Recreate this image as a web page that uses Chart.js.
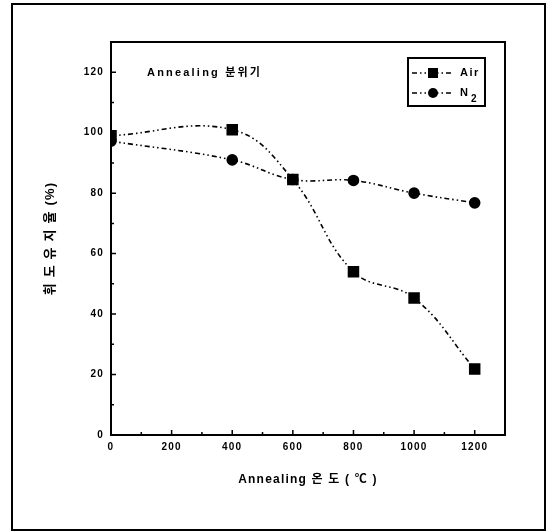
<!DOCTYPE html>
<html>
<head>
<meta charset="utf-8">
<script src="https://cdn.jsdelivr.net/npm/chart.js@4"></script>
<style>
  html, body { margin: 0; padding: 0; background: #fff; }
  canvas { display: block; }
</style>
</head>
<body>
<canvas id="chart" width="552" height="532"></canvas>
<script>
// Data
const temps = [0, 400, 600, 800, 1000, 1200];
const airValues = [99, 101, 84.5, 54, 45.3, 21.8];
const n2Values = [97.2, 91, 84.5, 84.2, 80, 76.8];
const xTicks = [0, 200, 400, 600, 800, 1000, 1200];
const yTicks = [0, 20, 40, 60, 80, 100, 120];
const seriesNames = ['Air', 'N'];

const FONT = "'Liberation Sans', 'Noto Sans CJK KR', Arial, sans-serif";
const DASH = [5, 3, 1.5, 3, 1.5, 3];

function toPoints(values) {
    return temps.map((t, i) => ({ x: t, y: values[i] }));
}

// Wider letter spacing like the scanned original
const spacingPlugin = {
    id: 'spacing',
    beforeLayout(chart) { chart.ctx.letterSpacing = '1.2px'; },
    beforeDraw(chart) { chart.ctx.letterSpacing = '1.2px'; }
};

// Frames, inside ticks, note text and legend box
const decorPlugin = {
    id: 'decor',
    afterDraw(chart) {
        const ctx = chart.ctx;
        const area = chart.chartArea;
        const xs = chart.scales.x;
        const ys = chart.scales.y;
        ctx.save();
        ctx.strokeStyle = '#000';
        ctx.fillStyle = '#000';

        // outer page border
        ctx.lineWidth = 2;
        ctx.strokeRect(12, 4, 533, 526);

        // plot frame
        ctx.strokeRect(area.left, area.top, area.right - area.left, area.bottom - area.top);

        // ticks pointing inside
        ctx.lineWidth = 1.5;
        ctx.beginPath();
        xTicks.forEach((v, i) => {
            const px = xs.getPixelForValue(v);
            ctx.moveTo(px, area.bottom);
            ctx.lineTo(px, area.bottom - 5);
            if (i < xTicks.length - 1) {
                const mx = xs.getPixelForValue(v + 100);
                ctx.moveTo(mx, area.bottom);
                ctx.lineTo(mx, area.bottom - 3);
            }
        });
        yTicks.forEach((v, i) => {
            const py = ys.getPixelForValue(v);
            ctx.moveTo(area.left, py);
            ctx.lineTo(area.left + 5, py);
            if (i < yTicks.length - 1) {
                const my = ys.getPixelForValue(v + 10);
                ctx.moveTo(area.left, my);
                ctx.lineTo(area.left + 3, my);
            }
        });
        ctx.stroke();

        // note in the plot
        ctx.font = 'bold 11px ' + FONT;
        ctx.textBaseline = 'middle';
        ctx.textAlign = 'left';
        ctx.letterSpacing = '2.2px';
        ctx.fillText('Annealing 분위기', 147, 73);

        // legend box
        ctx.letterSpacing = '1.5px';
        ctx.lineWidth = 2;
        ctx.strokeRect(408, 58, 77, 48);
        const rows = [73, 93];
        chart.data.datasets.forEach((ds, i) => {
            const y = rows[i];
            ctx.lineWidth = 1.6;
            ctx.setLineDash(DASH);
            ctx.beginPath();
            ctx.moveTo(412, y);
            ctx.lineTo(454, y);
            ctx.stroke();
            ctx.setLineDash([]);
            if (ds.pointStyle === 'rect') {
                ctx.fillRect(428, y - 5, 10, 10);
            } else {
                ctx.beginPath();
                ctx.arc(433, y, 5, 0, Math.PI * 2);
                ctx.fill();
            }
            ctx.font = 'bold 11px ' + FONT;
            ctx.fillText(seriesNames[i], 460, y);
        });
        // subscript 2 for N2
        ctx.font = 'bold 10px ' + FONT;
        ctx.fillText('2', 471, 99);
        ctx.restore();
    }
};

new Chart(document.getElementById('chart'), {
    type: 'line',
    data: {
        datasets: [{
            label: 'Air',
            data: toPoints(airValues),
            borderColor: '#000',
            backgroundColor: '#000',
            borderWidth: 1.6,
            borderDash: DASH,
            pointStyle: 'rect',
            pointRadius: 7,
            tension: 0.4
        }, {
            label: 'N2',
            data: toPoints(n2Values),
            borderColor: '#000',
            backgroundColor: '#000',
            borderWidth: 1.6,
            borderDash: DASH,
            pointStyle: 'circle',
            pointRadius: 5,
            tension: 0.4
        }]
    },
    options: {
        responsive: false,
        animation: false,
        layout: { padding: { left: 43, top: 42, right: 47, bottom: 45 } },
        plugins: {
            legend: { display: false },
            tooltip: { enabled: false }
        },
        scales: {
            x: {
                type: 'linear',
                min: 0,
                max: 1300,
                afterFit(scale) { scale.height = 52; },
                afterBuildTicks(scale) { scale.ticks = xTicks.map(v => ({ value: v })); },
                grid: { display: false, drawTicks: false, tickLength: 0 },
                border: { display: false },
                ticks: {
                    color: '#000',
                    padding: 6,
                    maxRotation: 0,
                    callback: v => String(v),
                    font: { family: FONT, size: 10, weight: 'bold' }
                },
                title: {
                    display: true,
                    text: 'Annealing 온 도 ( ℃ )',
                    color: '#000',
                    padding: 0,
                    font: { family: FONT, size: 12, weight: 'bold' }
                }
            },
            y: {
                min: 0,
                max: 130,
                afterFit(scale) { scale.width = 68; },
                afterBuildTicks(scale) { scale.ticks = yTicks.map(v => ({ value: v })); },
                grid: { display: false, drawTicks: false, tickLength: 0 },
                border: { display: false },
                ticks: {
                    color: '#000',
                    padding: 7,
                    callback: v => String(v),
                    font: { family: FONT, size: 10, weight: 'bold' }
                },
                title: {
                    display: true,
                    text: '휘 도 유 지 율 (%)',
                    color: '#000',
                    padding: 0,
                    font: { family: FONT, size: 13, weight: 'bold' }
                }
            }
        }
    },
    plugins: [spacingPlugin, decorPlugin]
});
</script>
</body>
</html>
